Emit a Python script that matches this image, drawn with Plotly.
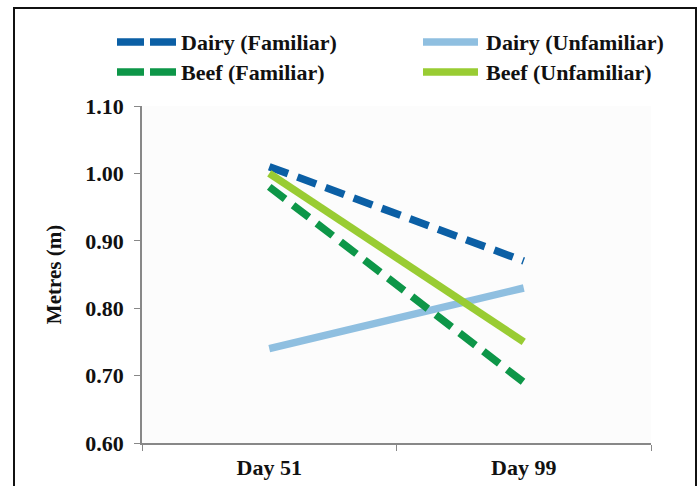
import plotly.graph_objects as go

# Categories and series values (metres)
days = ["Day 51", "Day 99"]
dairy_familiar = [1.01, 0.87]
dairy_unfamiliar = [0.74, 0.83]
beef_familiar = [0.98, 0.69]
beef_unfamiliar = [1.00, 0.75]
y_ticks = [0.60, 0.70, 0.80, 0.90, 1.00, 1.10]

series = [
    ("Dairy (Familiar)", dairy_familiar, "#0b5fa5", "20px,10px"),
    ("Dairy (Unfamiliar)", dairy_unfamiliar, "#8fbfe0", "solid"),
    ("Beef (Familiar)", beef_familiar, "#0d9648", "20px,10px"),
    ("Beef (Unfamiliar)", beef_unfamiliar, "#99cc33", "solid"),
]

FONT = "Liberation Serif"

fig = go.Figure()
for name, vals, color, dash in series:
    fig.add_trace(go.Scatter(
        x=days, y=vals, mode="lines", name=name,
        line=dict(color=color, width=7.5, dash=dash),
        showlegend=False,
    ))

# Plot-area geometry in pixels, used to place the hand-made legend and frame
W, H = 699, 486
L, R, T, B = 142, 48, 106, 43
pw, ph = W - L - R, H - T - B

def px(x):
    return (x - L) / pw

def py(y):
    return (H - B - y) / ph

shapes = []
annotations = []
legend_pos = [(117, 176, 179, 42), (423, 478, 484, 42), (117, 176, 179, 72), (423, 478, 484, 72)]
for (name, vals, color, dash), (x0, x1, tx, ty) in zip(series, legend_pos):
    shapes.append(dict(
        type="line", xref="paper", yref="paper",
        x0=px(x0), x1=px(x1), y0=py(ty), y1=py(ty),
        line=dict(color=color, width=7.5, dash="27px,6px" if dash != "solid" else "solid"),
    ))
    annotations.append(dict(
        text="<b>%s</b>" % name, xref="paper", yref="paper",
        x=px(tx), y=py(ty), xanchor="left", yanchor="middle",
        showarrow=False, font=dict(family=FONT, size=22, color="#111"),
    ))

# Outer frame around the figure
shapes.append(dict(
    type="rect", xref="paper", yref="paper",
    x0=px(14), x1=px(696), y0=py(520), y1=py(8),
    line=dict(color="#111", width=2), fillcolor="rgba(0,0,0,0)",
    layer="below",
))

fig.update_layout(
    width=W, height=H,
    margin=dict(l=L, r=R, t=T, b=B),
    paper_bgcolor="white", plot_bgcolor="#fcfcfc",
    font=dict(family=FONT, size=21, color="#111"),
    shapes=shapes, annotations=annotations,
    showlegend=False,
)
fig.update_xaxes(
    type="category", range=[-0.5, 1.5], automargin=False,
    showline=True, linecolor="#888", linewidth=1.5,
    ticks="outside", tickson="boundaries", ticklen=6, tickcolor="#888",
    showgrid=False, tickfont=dict(family=FONT, size=22),
    ticktext=["<b>%s</b>" % d for d in days], tickvals=days,
    ticklabelstandoff=4,
)
fig.update_yaxes(
    range=[0.60, 1.10], tickvals=y_ticks, automargin=False,
    ticktext=["<b>%.2f</b>" % v for v in y_ticks],
    showline=True, linecolor="#888", linewidth=1.5,
    ticks="outside", ticklen=6, tickcolor="#888",
    showgrid=False, zeroline=False, tickfont=dict(family=FONT, size=22),
    ticklabelstandoff=6,
    title=dict(text="<b>Metres (m)</b>", font=dict(family=FONT, size=21), standoff=18),
)

fig.write_html("out.html")
